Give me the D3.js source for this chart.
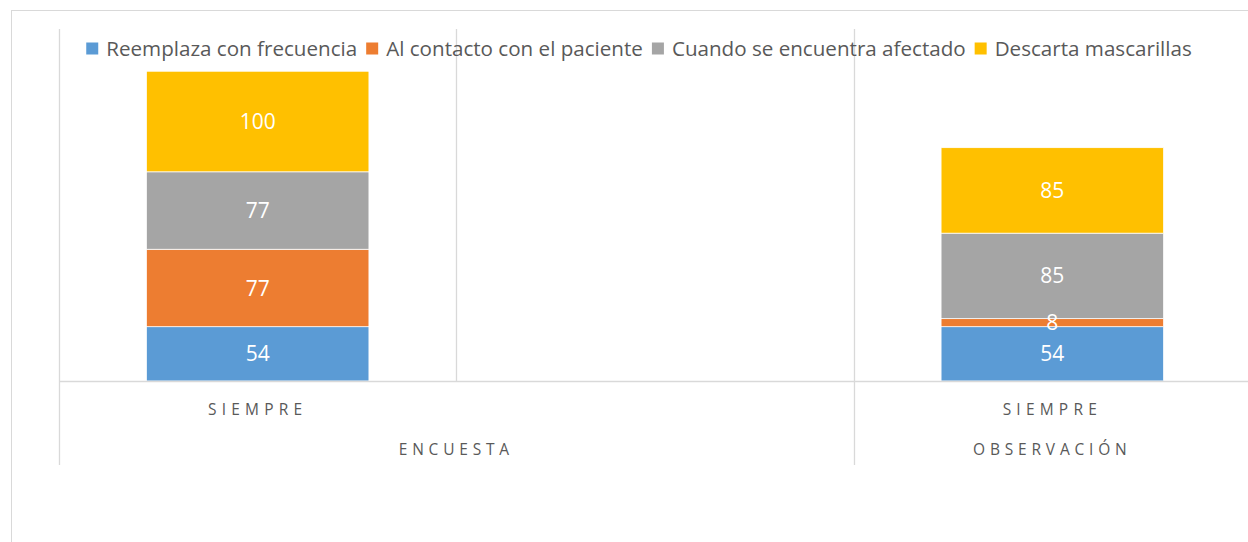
<!DOCTYPE html>
<html>
<head>
<meta charset="utf-8">
<script src="https://cdn.jsdelivr.net/npm/d3@7"></script>
<style>
  body { margin: 0; background: #fff; }
  svg { display: block; font-family: "Open Sans", Lato, sans-serif; }
</style>
</head>
<body>
<svg id="chart" width="1248" height="542"></svg>
<script>
// categories (inner level) and their groups (outer level)
const categories = ["SIEMPRE", "", "SIEMPRE"]
const groups = ["ENCUESTA", "ENCUESTA", "OBSERVACIÓN"]
const seriesNames = [
  "Reemplaza con frecuencia",
  "Al contacto con el paciente",
  "Cuando se encuentra afectado",
  "Descarta mascarillas"
]
const reemplaza = [54, null, 54]
const contacto = [77, null, 8]
const afectado = [77, null, 85]
const descarta = [100, null, 85]
const colors = ["#5b9bd5", "#ed7d31", "#a5a5a5", "#ffc000"]

const width = 1248
const height = 542
const margin = { top: 29, right: -3, bottom: 161, left: 59 }
const gridColor = "#d9d9d9"
const textColor = "#595959"

const svg = d3.select("#chart")

// chart area border
svg.append("rect")
  .attr("x", 11.5).attr("y", 10.5)
  .attr("width", width + 20).attr("height", height + 20)
  .attr("fill", "none").attr("stroke", gridColor)

const table = categories.map((c, i) => ({
  i,
  cat: c,
  group: groups[i],
  s0: reemplaza[i] || 0,
  s1: contacto[i] || 0,
  s2: afectado[i] || 0,
  s3: descarta[i] || 0,
  empty: reemplaza[i] == null
}))
const stack = d3.stack().keys(["s0", "s1", "s2", "s3"])(table)

const xScale = d3.scaleBand()
  .domain(d3.range(categories.length))
  .range([margin.left, width - margin.right])
  .padding(0)

const yScale = d3.scaleLinear()
  .domain([0, 350])
  .range([height - margin.bottom, margin.top])

const y0 = yScale(0)
const barW = xScale.bandwidth() * 0.56

// vertical category separators
const bounds = d3.range(categories.length).map(i => xScale(i))
svg.append("g")
  .attr("stroke", gridColor)
  .attr("stroke-width", 1.3)
  .selectAll("line")
  .data(bounds)
  .join("line")
  .attr("x1", d => Math.round(d) + 0.5)
  .attr("x2", d => Math.round(d) + 0.5)
  .attr("y1", margin.top)
  .attr("y2", (d, i) => i === 0 || groups[i] !== groups[i - 1] ? y0 + 84 : y0)

// bars
svg.append("g")
  .selectAll("g")
  .data(stack)
  .join("g")
  .attr("fill", (d, k) => colors[k])
  .selectAll("rect")
  .data(d => d.filter(p => !p.data.empty))
  .join("rect")
  .attr("x", d => xScale(d.data.i) + (xScale.bandwidth() - barW) / 2)
  .attr("width", barW)
  .attr("y", d => yScale(d[1]))
  .attr("height", d => yScale(d[0]) - yScale(d[1]))
  .attr("stroke", "#fff")
  .attr("stroke-width", 0.75)

// data labels
svg.append("g")
  .attr("fill", "#fff")
  .attr("font-size", 21)
  .attr("text-anchor", "middle")
  .selectAll("g")
  .data(stack)
  .join("g")
  .selectAll("text")
  .data(d => d.filter(p => !p.data.empty))
  .join("text")
  .attr("x", d => xScale(d.data.i) + xScale.bandwidth() / 2)
  .attr("y", d => (yScale(d[0]) + yScale(d[1])) / 2)
  .attr("dy", "0.36em")
  .text(d => d[1] - d[0])

// baseline
svg.append("line")
  .attr("x1", margin.left).attr("x2", width)
  .attr("y1", y0 + 0.5).attr("y2", y0 + 0.5)
  .attr("stroke", gridColor).attr("stroke-width", 1.3)

// inner category labels
svg.append("g")
  .attr("fill", textColor)
  .attr("font-size", 15.5)
  .attr("letter-spacing", 5.2)
  .attr("text-anchor", "middle")
  .selectAll("text")
  .data(table.filter(d => d.cat))
  .join("text")
  .attr("x", d => xScale(d.i) + xScale.bandwidth() / 2)
  .attr("y", y0 + 34)
  .text(d => d.cat)

// outer group labels
const groupNames = Array.from(new Set(groups))
svg.append("g")
  .attr("fill", textColor)
  .attr("font-size", 15.5)
  .attr("letter-spacing", 4.8)
  .attr("text-anchor", "middle")
  .selectAll("text")
  .data(groupNames)
  .join("text")
  .attr("x", g => {
    const idx = d3.range(groups.length).filter(i => groups[i] === g)
    return (xScale(idx[0]) + xScale(idx[idx.length - 1]) + xScale.bandwidth()) / 2
  })
  .attr("y", y0 + 74)
  .text(g => g)

// legend
const legend = svg.append("g")
  .attr("font-size", 20.6)
  .attr("fill", textColor)
const items = legend.selectAll("g")
  .data(seriesNames)
  .join("g")
items.append("rect")
  .attr("width", 12).attr("height", 12)
  .attr("y", -6)
  .attr("fill", (d, i) => colors[i])
items.append("text")
  .attr("x", 20)
  .attr("y", 7.5)
  .text(d => d)

let offset = 0
const widths = []
items.each(function () {
  const w = d3.select(this).select("text").node().getComputedTextLength() + 20
  widths.push(w)
})
const gap = 9
const total = d3.sum(widths) + gap * (widths.length - 1)
const startX = 639 - total / 2
items.attr("transform", (d, i) => {
  const x = startX + offset
  offset += widths[i] + gap
  return `translate(${x},48.5)`
})
</script>
</body>
</html>
